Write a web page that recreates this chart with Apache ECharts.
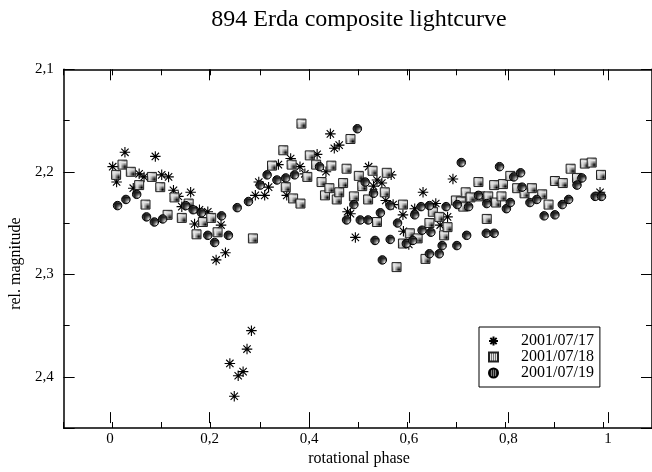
<!DOCTYPE html>
<html><head><meta charset="utf-8">
<script src="https://cdn.jsdelivr.net/npm/echarts@6/dist/echarts.min.js"></script>
<style>html,body{margin:0;padding:0;background:#fff}#c{width:652px;height:472px}</style>
</head><body><div id="c"></div>
<script>
const titleText = '894 Erda composite lightcurve';
const xName = 'rotational phase';
const yName = 'rel. magnitude';
const seriesNames = ['2001/07/17', '2001/07/18', '2001/07/19'];
const xTickLabels = ['0', '0,2', '0,4', '0,6', '0,8', '1'];
const yTickLabels = ['2,1', '2,2', '2,3', '2,4'];

const data0717 = [[0.000,2.195],[0.008,2.210],[0.025,2.181],[0.042,2.216],[0.054,2.202],[0.064,2.205],[0.087,2.185],[0.100,2.203],[0.114,2.205],[0.124,2.218],[0.134,2.224],[0.141,2.234],[0.159,2.220],[0.167,2.251],[0.177,2.237],[0.194,2.239],[0.211,2.286],[0.221,2.252],[0.230,2.279],[0.239,2.387],[0.248,2.419],[0.256,2.399],[0.266,2.395],[0.274,2.373],[0.283,2.355],[0.291,2.223],[0.298,2.210],[0.310,2.223],[0.318,2.215],[0.338,2.193],[0.355,2.223],[0.363,2.187],[0.382,2.195],[0.392,2.202],[0.417,2.183],[0.435,2.200],[0.444,2.163],[0.452,2.177],[0.462,2.174],[0.479,2.239],[0.485,2.241],[0.495,2.264],[0.522,2.195],[0.532,2.214],[0.539,2.208],[0.549,2.211],[0.557,2.228],[0.568,2.203],[0.572,2.232],[0.592,2.242],[0.593,2.258],[0.604,2.271],[0.616,2.236],[0.633,2.220],[0.653,2.236],[0.659,2.231],[0.668,2.252],[0.683,2.244],[0.694,2.207],[0.994,2.220]];

const data0718 = [[0.007,2.203],[0.020,2.193],[0.037,2.200],[0.054,2.213],[0.067,2.232],[0.080,2.205],[0.097,2.215],[0.112,2.242],[0.126,2.225],[0.141,2.245],[0.155,2.231],[0.171,2.261],[0.184,2.249],[0.201,2.245],[0.214,2.259],[0.286,2.265],[0.325,2.194],[0.348,2.179],[0.353,2.215],[0.365,2.193],[0.368,2.226],[0.383,2.231],[0.385,2.153],[0.397,2.205],[0.402,2.184],[0.415,2.193],[0.426,2.210],[0.433,2.223],[0.442,2.216],[0.446,2.194],[0.457,2.227],[0.462,2.220],[0.470,2.211],[0.477,2.197],[0.485,2.168],[0.492,2.224],[0.502,2.204],[0.509,2.214],[0.521,2.227],[0.530,2.199],[0.539,2.249],[0.555,2.220],[0.559,2.201],[0.579,2.293],[0.592,2.232],[0.592,2.270],[0.606,2.260],[0.622,2.265],[0.638,2.285],[0.646,2.250],[0.653,2.239],[0.666,2.244],[0.676,2.262],[0.683,2.254],[0.700,2.228],[0.710,2.229],[0.715,2.234],[0.720,2.220],[0.730,2.225],[0.746,2.210],[0.750,2.224],[0.763,2.246],[0.766,2.224],[0.778,2.213],[0.782,2.230],[0.793,2.224],[0.796,2.212],[0.811,2.204],[0.825,2.216],[0.840,2.221],[0.855,2.216],[0.876,2.222],[0.889,2.232],[0.902,2.209],[0.918,2.211],[0.934,2.197],[0.947,2.206],[0.963,2.192],[0.977,2.191],[0.996,2.203]];

const data0719 = [[0.010,2.233],[0.027,2.227],[0.049,2.222],[0.069,2.244],[0.085,2.249],[0.102,2.246],[0.149,2.233],[0.164,2.237],[0.181,2.240],[0.194,2.262],[0.208,2.269],[0.222,2.243],[0.236,2.262],[0.254,2.235],[0.277,2.229],[0.301,2.213],[0.315,2.203],[0.335,2.208],[0.353,2.206],[0.371,2.203],[0.422,2.195],[0.477,2.247],[0.492,2.232],[0.499,2.158],[0.505,2.247],[0.515,2.210],[0.521,2.247],[0.532,2.221],[0.535,2.267],[0.546,2.240],[0.550,2.286],[0.566,2.233],[0.566,2.266],[0.581,2.250],[0.599,2.270],[0.612,2.267],[0.616,2.242],[0.629,2.234],[0.631,2.257],[0.646,2.233],[0.646,2.280],[0.649,2.259],[0.666,2.280],[0.672,2.272],[0.680,2.234],[0.702,2.272],[0.703,2.232],[0.711,2.191],[0.722,2.262],[0.726,2.234],[0.746,2.223],[0.762,2.260],[0.763,2.231],[0.778,2.260],[0.789,2.195],[0.803,2.236],[0.811,2.230],[0.818,2.205],[0.832,2.201],[0.835,2.215],[0.851,2.230],[0.865,2.227],[0.880,2.243],[0.902,2.242],[0.917,2.232],[0.930,2.227],[0.947,2.213],[0.957,2.206],[0.984,2.224],[0.997,2.224]];

function makePattern(bg, dot) {
  const c = document.createElement('canvas');
  c.width = 2; c.height = 2;
  const g = c.getContext('2d');
  g.fillStyle = bg; g.fillRect(0, 0, 2, 2);
  g.fillStyle = dot; g.fillRect(0, 0, 1, 1);
  return { image: c, repeat: 'repeat' };
}
const squareFill = makePattern('#e4e4e4', '#000000');
const circleFill = makePattern('#1a1a1a', '#e6e6e6');
const starPath = 'path://M5,0L5,10M0,5L10,5M1.5,1.5L8.5,8.5M1.5,8.5L8.5,1.5';

const FONT = 'Liberation Serif';
const G = { left: 60, width: 598, top: 69.3, height: 358.7 };
const GB = { left: 110, width: 498, top: 69.3, height: 358.7 };

const lineStyle = { color: '#000', width: 1.5 };
function shortX(pos) {
  return { gridIndex: 0, type: 'value', position: pos, min: -0.1, max: 1.1, interval: 0.1,
    axisLine: { show: true, onZero: false, lineStyle }, splitLine: { show: false },
    axisTick: { show: true, inside: true, length: 6, lineStyle: { color: '#000', width: 1 } },
    axisLabel: { show: false } };
}
function longX(pos, withLabels) {
  return { gridIndex: 1, type: 'value', position: pos, min: 0, max: 1, interval: 0.2,
    axisLine: { show: false, onZero: false }, splitLine: { show: false },
    axisTick: { show: true, inside: true, length: 11, lineStyle: { color: '#000', width: 1 } },
    axisLabel: { show: withLabels, margin: 8, fontFamily: FONT, fontSize: 15, color: '#000',
      formatter: (v, i) => xTickLabels[i] ?? '' },
    name: withLabels ? xName : '', nameLocation: 'middle', nameGap: 25,
    nameTextStyle: { fontFamily: FONT, fontSize: 16, color: '#000' } };
}
function shortY(pos) {
  return { gridIndex: 0, type: 'value', position: pos, min: 2.1, max: 2.45, interval: 0.05, inverse: true,
    axisLine: { show: true, onZero: false, lineStyle }, splitLine: { show: false },
    axisTick: { show: true, inside: true, length: 6, lineStyle: { color: '#000', width: 1 } },
    axisLabel: { show: false } };
}
function longY(pos, withLabels) {
  return { gridIndex: 0, type: 'value', position: pos, min: 2.1, max: 2.45, interval: 0.1, inverse: true,
    axisLine: { show: false, onZero: false }, splitLine: { show: false },
    axisTick: { show: true, inside: true, length: 11, lineStyle: { color: '#000', width: 1 } },
    axisLabel: { show: withLabels, margin: 10, fontFamily: FONT, fontSize: 15, color: '#000',
      formatter: (v) => {
        const k = Math.round((v - 2.1) * 10);
        return Math.abs(v - (2.1 + k * 0.1)) < 1e-6 ? (yTickLabels[k] ?? '') : '';
      } },
    name: withLabels ? yName : '', nameLocation: 'middle', nameGap: 26,
    nameTextStyle: { fontFamily: FONT, fontSize: 16, color: '#000', padding: [0, 30, 0, 0] } };
}

const chart = echarts.init(document.getElementById('c'), null, { renderer: 'canvas' });
chart.setOption({
  animation: false,
  backgroundColor: '#fff',
  title: { text: titleText, left: 359, top: 7, textAlign: 'center', padding: 0,
    textStyle: { fontFamily: FONT, fontSize: 24, fontWeight: 'normal', color: '#000', lineHeight: 26 } },
  grid: [G, GB],
  xAxis: [shortX('bottom'), shortX('top'), longX('bottom', true), longX('top', false)],
  yAxis: [shortY('left'), shortY('right'), longY('left', true), longY('right', false),
    { gridIndex: 1, type: 'value', show: false, min: 0, max: 1 }],
  legend: {
    left: 479, top: 327, orient: 'vertical', padding: [6, 6, 6, 9], itemGap: 0,
    itemWidth: 9, itemHeight: 9, borderColor: '#000', borderWidth: 1, backgroundColor: '#fff',
    textStyle: { fontFamily: FONT, fontSize: 16, lineHeight: 16, color: '#000', padding: [0, 0, 0, 18] },
    data: seriesNames
  },
  series: [
    { name: seriesNames[0], type: 'scatter', xAxisIndex: 0, yAxisIndex: 0, data: data0717,
      symbol: starPath, symbolSize: 10.5,
      itemStyle: { color: 'rgba(0,0,0,0)', borderColor: '#000', borderWidth: 1.1, opacity: 1 } },
    { name: seriesNames[1], type: 'scatter', xAxisIndex: 0, yAxisIndex: 0, data: data0718,
      symbol: 'rect', symbolSize: 9,
      itemStyle: { color: squareFill, borderColor: '#222', borderWidth: 1, opacity: 1 } },
    { name: seriesNames[2], type: 'scatter', xAxisIndex: 0, yAxisIndex: 0, data: data0719,
      symbol: 'circle', symbolSize: 8.5,
      itemStyle: { color: circleFill, borderColor: '#000', borderWidth: 1, opacity: 1 } }
  ]
});
</script></body></html>
